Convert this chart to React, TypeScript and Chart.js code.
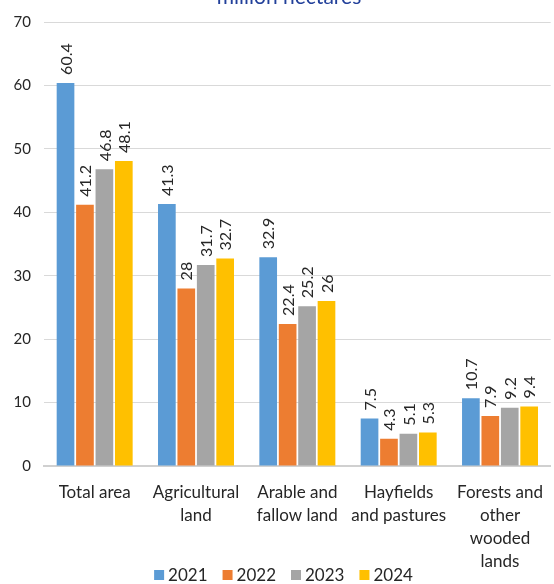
import React, { useEffect, useRef } from "react";
import { Chart, registerables } from "chart.js";

Chart.register(...registerables);

const categories: string[][] = [
  ["Total area"],
  ["Agricultural", "land"],
  ["Arable and", "fallow land"],
  ["Hayfields", "and pastures"],
  ["Forests and", "other", "wooded", "lands"],
];
const seriesNames = ["2021", "2022", "2023", "2024"];
const values2021 = [60.4, 41.3, 32.9, 7.5, 10.7];
const values2022 = [41.2, 28, 22.4, 4.3, 7.9];
const values2023 = [46.8, 31.7, 25.2, 5.1, 9.2];
const values2024 = [48.1, 32.7, 26, 5.3, 9.4];
const seriesColors = ["#5B9BD5", "#ED7D31", "#A5A5A5", "#FFC000"];
const titleText = "million hectares";
const yMin = 0;
const yMax = 70;
const yStep = 10;

const FONT = "Lato, 'Noto Sans', sans-serif";
const TEXT = "#262626";

const labelPlugin = {
  id: "valueLabels",
  afterDatasetsDraw(chart: any) {
    const ctx = chart.ctx;
    ctx.save();
    ctx.font = `16px ${FONT}`;
    ctx.fillStyle = TEXT;
    chart.data.datasets.forEach((ds: any, i: number) => {
      const meta = chart.getDatasetMeta(i);
      meta.data.forEach((el: any, j: number) => {
        ctx.save();
        ctx.translate(el.x, el.y - 8);
        ctx.rotate(-Math.PI / 2);
        ctx.textAlign = "left";
        ctx.textBaseline = "middle";
        ctx.fillText(String(ds.data[j]), 0, 1);
        ctx.restore();
      });
    });
    ctx.restore();
  },
};

const extrasPlugin = {
  id: "extras",
  afterDraw(chart: any) {
    const ctx = chart.ctx;
    ctx.save();
    ctx.font = `21px ${FONT}`;
    ctx.fillStyle = "#22409A";
    ctx.textAlign = "center";
    ctx.textBaseline = "alphabetic";
    ctx.fillText(titleText, 289, 4);
    ctx.font = `17px ${FONT}`;
    const box = 10;
    const gap = 4;
    const spacing = 15;
    const items = chart.data.datasets.map((ds: any) => ({
      label: ds.label,
      color: ds.backgroundColor,
      w: box + gap + ctx.measureText(ds.label).width,
    }));
    const total = items.reduce((s: number, it: any) => s + it.w, 0) + spacing * (items.length - 1);
    let x = 283.5 - total / 2;
    const cy = 575;
    items.forEach((it: any) => {
      ctx.fillStyle = it.color;
      ctx.fillRect(x, cy - box / 2, box, box);
      ctx.fillStyle = TEXT;
      ctx.textAlign = "left";
      ctx.textBaseline = "middle";
      ctx.fillText(it.label, x + box + gap, cy + 1);
      x += it.w + spacing;
    });
    ctx.restore();
  },
};

export default function App() {
  const ref = useRef<HTMLCanvasElement>(null);
  useEffect(() => {
    const seriesValues = [values2021, values2022, values2023, values2024];
    const chart = new Chart(ref.current as HTMLCanvasElement, {
      type: "bar",
      data: {
        labels: categories,
        datasets: seriesNames.map((name, i) => ({
          label: name,
          data: seriesValues[i],
          backgroundColor: seriesColors[i],
          borderWidth: 0,
          categoryPercentage: 0.767,
          barPercentage: 0.91,
        })),
      },
      options: {
        responsive: false,
        animation: false,
        layout: { padding: { top: 20, left: 0, right: 0, bottom: 0 } },
        plugins: {
          legend: { display: false },
          title: { display: false },
          tooltip: { enabled: false },
        },
        scales: {
          x: {
            grid: { display: false, drawTicks: false },
            border: { display: true, color: "#D0D0D0", width: 2 },
            ticks: {
              color: TEXT,
              font: { family: FONT, size: 17, lineHeight: 23 / 17 },
              padding: 15,
              maxRotation: 0,
              autoSkip: false,
            },
            afterFit: (s: any) => {
              s.height = 118;
            },
          },
          y: {
            min: yMin,
            max: yMax,
            grid: { color: "#D9D9D9", lineWidth: 1, drawTicks: false },
            border: { display: false },
            ticks: {
              stepSize: yStep,
              color: TEXT,
              font: { family: FONT, size: 15 },
              padding: 13,
            },
            afterFit: (s: any) => {
              s.width = 44;
            },
          },
        },
      },
      plugins: [labelPlugin, extrasPlugin],
    });
    return () => chart.destroy();
  }, []);
  return (
    <div style={{ position: "absolute", left: 0, top: 0, width: 554, height: 584, overflow: "hidden", background: "#fff" }}>
      <canvas ref={ref} width={558} height={584} style={{ display: "block" }} />
    </div>
  );
}
